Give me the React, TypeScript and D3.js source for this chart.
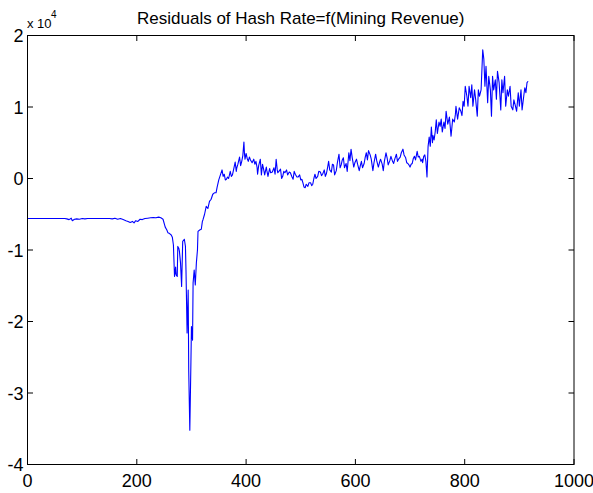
import React from 'react';
import * as d3 from 'd3';

const title = 'Residuals of Hash Rate=f(Mining Revenue)';
const xTicks = [0, 200, 400, 600, 800, 1000];
const yTicks = [-4, -3, -2, -1, 0, 1, 2];

// observation index
const days = [
  1, 20, 40, 60, 68, 72, 76, 80, 82, 86, 90, 95, 100, 105, 110, 115, 130, 150, 155, 160,
  165, 170, 175, 180, 184, 188, 192, 195, 198, 202, 206, 210, 215, 220, 225, 230, 235, 240, 244, 248,
  252, 255, 257, 260, 263, 265, 267, 269, 271, 272, 274, 275, 277, 278, 280, 282, 284, 287, 289, 290,
  292, 294, 295, 297, 299, 300, 302, 303, 305, 307, 309, 311, 312, 315, 318, 320, 321, 324, 327, 330,
  333, 336, 339, 342, 345, 347, 350, 353, 356, 358, 360, 362, 364, 366, 368, 371, 373, 375, 377, 380,
  382, 383, 385, 388, 390, 392, 394, 396, 397, 398, 400, 402, 404, 406, 408, 411, 414, 416, 418, 420,
  421, 423, 426, 428, 430, 432, 434, 435, 437, 438, 440, 443, 445, 448, 451, 453, 455, 457, 458, 460,
  463, 465, 467, 469, 471, 474, 476, 479, 481, 484, 486, 488, 490, 493, 495, 498, 500, 502, 504, 506,
  508, 510, 513, 515, 518, 520, 522, 524, 526, 528, 531, 533, 536, 538, 540, 543, 545, 547, 549, 551,
  553, 556, 558, 560, 562, 565, 567, 570, 572, 574, 576, 578, 580, 583, 585, 588, 590, 592, 594, 597,
  599, 602, 604, 607, 609, 611, 613, 616, 618, 620, 622, 624, 627, 629, 632, 634, 637, 639, 642, 644,
  646, 649, 651, 653, 656, 658, 660, 663, 665, 668, 670, 672, 675, 677, 679, 682, 684, 687, 689, 692,
  694, 696, 698, 700, 702, 704, 706, 708, 710, 713, 715, 717, 720, 722, 723, 725, 727, 729, 731, 733,
  735, 737, 739, 741, 742, 744, 746, 748, 750, 753, 755, 757, 759, 762, 764, 766, 769, 772, 775, 778,
  781, 783, 784, 787, 790, 793, 795, 797, 799, 801, 804, 806, 808, 811, 813, 815, 818, 820, 823, 825,
  827, 830, 833, 835, 837, 839, 842, 844, 847, 849, 851, 853, 856, 858, 860, 863, 866, 868, 870, 873,
  875, 878, 880, 883, 885, 888, 890, 893, 895, 898, 900, 903, 905, 908, 910, 912, 914, 916,
];

// residual hash rate, in units of 10^4
const residuals = [
  -0.56, -0.56, -0.56, -0.56, -0.56, -0.565, -0.575, -0.555, -0.59, -0.57, -0.565, -0.57, -0.56, -0.565, -0.56, -0.56, -0.56, -0.56, -0.565, -0.555,
  -0.57, -0.56, -0.575, -0.59, -0.6, -0.615, -0.6, -0.62, -0.59, -0.6, -0.57, -0.575, -0.56, -0.555, -0.55, -0.545, -0.55, -0.54, -0.55, -0.57,
  -0.68, -0.72, -0.76, -0.77, -0.79, -0.82, -0.93, -1.37, -1.24, -1.35, -1.37, -0.95, -0.98, -1.02, -1.18, -1.51, -0.88, -0.85, -0.95, -1.28,
  -2.16, -1.56, -2.68, -3.52, -2.58, -2.07, -2.26, -1.46, -1.28, -1.49, -1.18, -1.0, -0.74, -0.72, -0.71, -0.6, -0.58, -0.5, -0.39, -0.42,
  -0.32, -0.29, -0.22, -0.2, -0.2, -0.12, -0.02, 0.05, 0.12, 0.03, 0.06, -0.02, -0.01, 0.02, 0.0, 0.1, 0.03, 0.05, 0.12, 0.23,
  0.1, 0.15, 0.2, 0.3, 0.18, 0.24, 0.32, 0.51, 0.35, 0.27, 0.35, 0.28, 0.24, 0.3, 0.26, 0.22, 0.27, 0.2, 0.24, 0.16,
  0.06, 0.18, 0.27, 0.05, 0.2, 0.13, 0.05, 0.09, 0.16, 0.11, 0.03, 0.14, 0.08, 0.09, 0.15, 0.06, 0.27, 0.12, 0.08, 0.1,
  0.13, 0.0, 0.03, 0.1, 0.08, 0.12, 0.05, 0.09, 0.08, 0.02, -0.01, 0.1, 0.06, 0.02, 0.02, 0.05, -0.02, -0.01, -0.06, -0.12,
  -0.13, -0.08, -0.11, -0.06, -0.06, -0.1, -0.08, 0.0, 0.06, 0.0, 0.03, 0.1, 0.09, 0.04, 0.06, 0.12, 0.03, 0.07, 0.15, 0.24,
  0.12, 0.09, 0.2, 0.19, 0.05, 0.11, 0.22, 0.34, 0.15, 0.19, 0.26, 0.29, 0.15, 0.21, 0.1, 0.36, 0.25, 0.41, 0.3, 0.16,
  0.22, 0.27, 0.2, 0.11, 0.18, 0.24, 0.15, 0.21, 0.3, 0.36, 0.26, 0.39, 0.33, 0.27, 0.11, 0.22, 0.34, 0.25, 0.16, 0.22,
  0.27, 0.2, 0.11, 0.24, 0.36, 0.29, 0.19, 0.25, 0.31, 0.24, 0.21, 0.27, 0.34, 0.24, 0.27, 0.3, 0.36, 0.41, 0.33, 0.29,
  0.22, 0.21, 0.19, 0.16, 0.2, 0.21, 0.28, 0.31, 0.26, 0.38, 0.3, 0.31, 0.24, 0.27, 0.22, 0.31, 0.33, 0.24, 0.02, 0.45,
  0.58, 0.45, 0.72, 0.5, 0.6, 0.54, 0.65, 0.82, 0.63, 0.79, 0.73, 0.83, 0.65, 0.79, 0.7, 0.94, 0.76, 0.86, 0.59, 0.83,
  0.79, 0.9, 1.01, 0.83, 0.99, 0.94, 0.88, 1.08, 1.01, 1.29, 1.15, 1.01, 1.29, 1.13, 1.31, 1.01, 1.24, 1.11, 0.87, 1.24,
  1.15, 1.24, 1.8, 1.67, 1.29, 1.57, 1.06, 1.43, 1.24, 0.87, 1.43, 1.24, 1.38, 1.11, 1.5, 1.34, 0.96, 1.38, 1.2, 1.43,
  1.01, 1.24, 1.15, 1.29, 1.01, 0.96, 1.1, 1.01, 0.94, 1.2, 1.01, 1.24, 0.96, 1.15, 1.27, 1.2, 1.34, 1.36,
];

const W = 593;
const H = 493;
const box = { left: 27.5, right: 574, top: 35.5, bottom: 464.5 };
const font = "Arial, 'Liberation Sans', Helvetica, sans-serif";
const tickLen = 5.5;

export default function App() {
  const x = d3.scaleLinear().domain([0, 1000]).range([box.left, box.right]);
  const y = d3.scaleLinear().domain([-4, 2]).range([box.bottom, box.top]);
  const path = d3
    .line<number>()
    .x((_, i) => x(days[i]))
    .y((d) => y(d))(residuals) as string;

  return (
    <svg
      width={W}
      height={H}
      style={{ position: 'absolute', left: 0, top: 0, background: '#fff' }}
      fontFamily={font}
    >
      <rect x={0} y={0} width={W} height={H} fill="#fff" />
      <path d={path} fill="none" stroke="#0000ff" strokeWidth={1.1} strokeLinejoin="round" />
      <rect
        x={box.left}
        y={box.top}
        width={box.right - box.left}
        height={box.bottom - box.top}
        fill="none"
        stroke="#000"
        strokeWidth={1}
      />
      {xTicks.map((t) => (
        <g key={`x${t}`}>
          <line x1={x(t)} x2={x(t)} y1={box.bottom} y2={box.bottom - tickLen} stroke="#000" />
          <line x1={x(t)} x2={x(t)} y1={box.top} y2={box.top + tickLen} stroke="#000" />
          <text x={x(t)} y={487} textAnchor="middle" fontSize={18} fill="#000">
            {t}
          </text>
        </g>
      ))}
      {yTicks.map((t) => (
        <g key={`y${t}`}>
          <line x1={box.left} x2={box.left + tickLen} y1={y(t)} y2={y(t)} stroke="#000" />
          <line x1={box.right} x2={box.right - tickLen} y1={y(t)} y2={y(t)} stroke="#000" />
          <text x={23.5} y={y(t) + 6.5} textAnchor="end" fontSize={18} fill="#000">
            {t}
          </text>
        </g>
      ))}
      <text x={27} y={28} fontSize={13} fill="#000">
        x 10
      </text>
      <text x={51} y={18} fontSize={10} fill="#000">
        4
      </text>
      <text x={(box.left + box.right) / 2} y={24} textAnchor="middle" fontSize={17} fill="#000">
        {title}
      </text>
    </svg>
  );
}
